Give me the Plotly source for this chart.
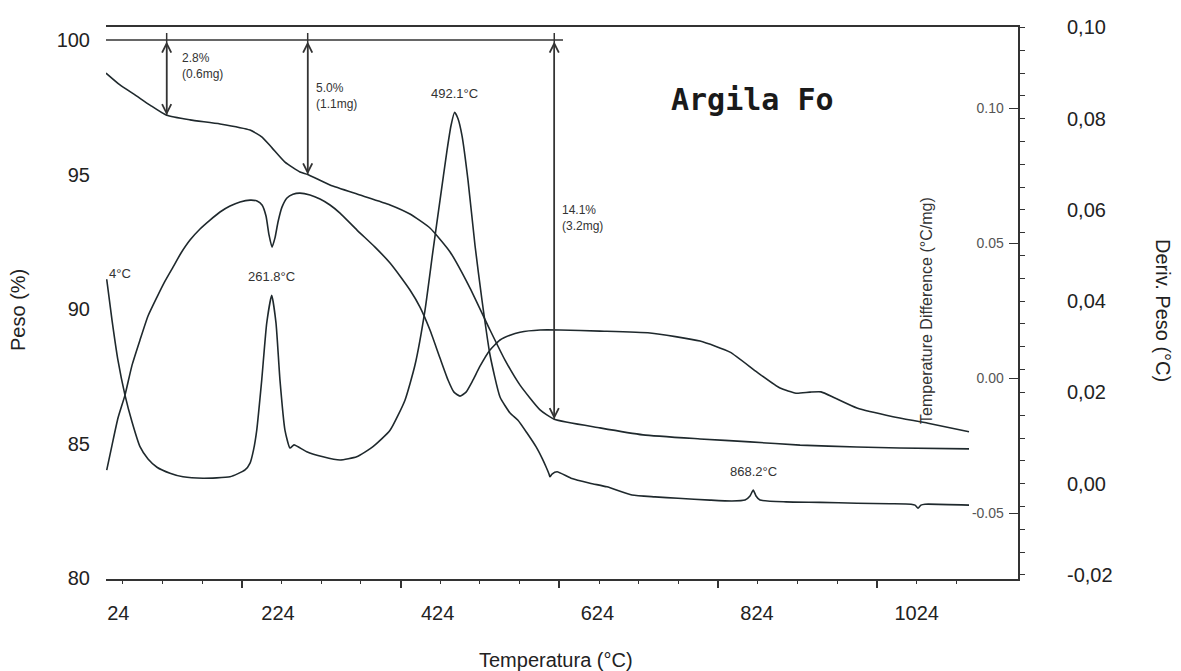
import numpy as np
import plotly.graph_objects as go

# ---- data (temperature in °C) ----
t_weight = [53.1, 70.7, 89.6, 108.5, 129.5, 158.9, 196.7, 234.5, 249.6, 262.2,
            278.5, 297.4, 307.1, 335.2, 373.0, 410.8, 435.9, 461.1, 486.4, 511.5,
            536.7, 555.6, 574.5, 599.7, 617.6, 675.2, 729.4, 801.1, 864.1, 927.2,
            998.8, 1052.2, 1139.9]
weight = [98.77, 98.33, 97.96, 97.58, 97.2, 97.03, 96.88, 96.65, 96.39, 95.99,
          95.46, 95.09, 95.0, 94.61, 94.24, 93.87, 93.53, 93.01, 92.12, 90.78,
          89.22, 88.10, 87.17, 86.25, 85.9, 85.58, 85.32, 85.17, 85.06, 84.94,
          84.87, 84.83, 84.80]

t_dtg = [54.0, 60.7, 68.2, 77.0, 85.9, 95.9, 106.0, 117.3, 133.7, 150.1,
         175.3, 209.3, 228.2, 234.5, 238.9, 242.9, 249.2, 255.5, 261.8, 267.2,
         272.2, 278.5, 284.8, 289.9, 294.9, 305.9, 326.4, 347.8, 368.8, 389.3,
         410.8, 429.6, 442.2, 454.8, 464.9, 473.7, 482.5, 487.6, 492.1, 496.4,
         501.4, 509.0, 517.8, 526.6, 536.7, 549.3, 561.9, 571.9, 583.3, 594.6,
         602.2, 607.2, 611.0, 612.2, 614.8, 621.1, 638.7, 662.6, 684.0, 715.5,
         744.5, 773.4, 813.7, 841.4, 857.8, 864.1, 868.2, 871.7, 876.7, 909.4,
         952.3, 998.8, 1040.4, 1066.9, 1071.9, 1075.7, 1079.4, 1084.5, 1139.9]
dtg = [0.0448, 0.0358, 0.0270, 0.0194, 0.0135, 0.0081, 0.0054, 0.0036, 0.0023, 0.0015,
       0.0012, 0.0015, 0.0030, 0.0045, 0.0074, 0.0117, 0.0227, 0.0352, 0.0413, 0.0352,
       0.0227, 0.0117, 0.0078, 0.0085, 0.0081, 0.0070, 0.0059, 0.0052, 0.0059, 0.0081,
       0.0117, 0.0183, 0.0260, 0.0380, 0.0511, 0.0621, 0.0730, 0.0785, 0.0814, 0.0800,
       0.0763, 0.0665, 0.0522, 0.0402, 0.0282, 0.0190, 0.0155, 0.0139, 0.0111, 0.0081,
       0.0056, 0.0037, 0.0021, 0.0015, 0.0021, 0.0026, 0.0012, 0.0001, -0.0007, -0.0025,
       -0.0029, -0.0032, -0.0036, -0.0038, -0.0036, -0.0027, -0.0014, -0.0027, -0.0036, -0.0040,
       -0.0041, -0.0043, -0.0044, -0.0045, -0.0047, -0.0054, -0.0047, -0.0045, -0.0047]

t_dta = [54.0, 60.7, 68.2, 77.0, 85.9, 95.9, 106.0, 117.3, 127.4, 137.5,
         147.6, 158.9, 171.5, 184.1, 196.7, 209.3, 221.9, 234.5, 243.3, 249.6,
         254.6, 258.4, 262.2, 265.9, 269.7, 274.7, 281.0, 288.6, 297.4, 310.0,
         322.6, 335.2, 347.8, 369.2, 391.9, 410.8, 423.3, 435.9, 448.5, 461.1,
         473.7, 483.8, 491.3, 498.9, 506.5, 515.3, 524.1, 536.7, 549.3, 561.9,
         574.5, 599.7, 624.8, 675.2, 738.2, 801.1, 838.9, 872.9, 901.9, 922.0,
         939.7, 953.5, 971.1, 998.8, 1044.2, 1088.3, 1139.9]
dta = [-0.0341, -0.0248, -0.0148, -0.0063, 0.0048, 0.0141, 0.0230, 0.0300, 0.0359, 0.0411,
       0.0463, 0.0511, 0.0552, 0.0585, 0.0615, 0.0637, 0.0652, 0.0659, 0.0656, 0.0641,
       0.0600, 0.0530, 0.0485, 0.0519, 0.0578, 0.0633, 0.0667, 0.0681, 0.0685, 0.0678,
       0.0663, 0.0641, 0.0611, 0.0548, 0.0485, 0.0426, 0.0378, 0.0326, 0.0263, 0.0178,
       0.0074, -0.0007, -0.0052, -0.0067, -0.0052, -0.0007, 0.0044, 0.0104, 0.0141, 0.0159,
       0.0170, 0.0178, 0.0178, 0.0174, 0.0167, 0.0137, 0.0096, 0.0022, -0.0037, -0.0056,
       -0.0052, -0.0051, -0.0074, -0.0111, -0.0143, -0.0167, -0.0199]

peak_temps = [261.8, 492.1, 868.2]
loss_temps = [129.5, 307.1, 617.6]
loss_pct = [2.8, 5.0, 14.1]
loss_mg = [0.6, 1.1, 3.2]

temp_tick_labels = [24, 224, 424, 624, 824, 1024]
instrument_major_ticks = [224, 424, 624, 824, 1024]
peso_ticks = [80, 85, 90, 95, 100]
deriv_ticks = [-0.02, 0.00, 0.02, 0.04, 0.06, 0.08, 0.10]
deriv_ticktext = ["-0,02", "0,00", "0,02", "0,04", "0,06", "0,08", "0,10"]
dta_ticks = [-0.05, 0.00, 0.05, 0.10]
dta_ticktext = ["-0.05", "0.00", "0.05", "0.10"]

# ---- styling ----
INK = "#1f292d"
AXIS = "#333333"
FONT = "Liberation Sans, Arial, sans-serif"

fig = go.Figure()
line_style = dict(color=INK, width=1.6, shape="spline", smoothing=0.5)
fig.add_trace(go.Scatter(x=t_weight, y=weight, mode="lines", line=line_style,
                         xaxis="x", yaxis="y", showlegend=False, hoverinfo="skip"))
fig.add_trace(go.Scatter(x=t_dtg, y=dtg, mode="lines", line=line_style,
                         xaxis="x", yaxis="y2", showlegend=False, hoverinfo="skip"))
fig.add_trace(go.Scatter(x=t_dta, y=dta, mode="lines", line=line_style,
                         xaxis="x", yaxis="y3", showlegend=False, hoverinfo="skip"))
# transparent anchor so the labelled temperature scale gets drawn
fig.add_trace(go.Scatter(x=temp_tick_labels, y=[peso_ticks[0]] * len(temp_tick_labels),
                         mode="markers", marker=dict(opacity=0, size=1),
                         xaxis="x2", yaxis="y", showlegend=False, hoverinfo="skip"))

annotations = []
shapes = []

# 100 % reference line
shapes.append(dict(type="line", xref="x", yref="y", x0=53.1, x1=628.6, y0=100, y1=100,
                   line=dict(color=AXIS, width=1.5)))

# mass-loss arrows and their labels
text_offsets = [(13, -9), (6, -39), (6, -161)]
for T, p, m, (dx, dy) in zip(loss_temps, loss_pct, loss_mg, text_offsets):
    end = 100 - p
    shapes.append(dict(type="line", xref="x", yref="y", x0=T, x1=T, y0=100.26, y1=end,
                       line=dict(color=AXIS, width=1.5)))
    annotations.append(dict(x=T, y=end, ax=T, ay=100, xref="x", yref="y", axref="x", ayref="y",
                            text="", showarrow=True, arrowside="end+start",
                            arrowhead=5, startarrowhead=5, arrowsize=1.2, startarrowsize=1.2,
                            arrowwidth=1.5, arrowcolor=AXIS, standoff=0, startstandoff=0))
    annotations.append(dict(x=T, y=100, xref="x", yref="y", xshift=dx, yshift=dy,
                            xanchor="left", yanchor="top", align="left", showarrow=False,
                            text=f"{p:.1f}%<br>({m:.1f}mg)",
                            font=dict(family=FONT, size=12, color="#333333")))

# peak temperature labels on the derivative curve
for T in peak_temps:
    v = float(np.interp(T, t_dtg, dtg))
    annotations.append(dict(x=T, y=v, xref="x", yref="y2", xanchor="center",
                            yanchor="bottom", yshift=9,
                            showarrow=False, text=f"{T:.1f}°C",
                            font=dict(family=FONT, size=13, color="#333333")))

# clipped label at the left edge
annotations.append(dict(x=0.001, y=0.5543, xref="paper", yref="paper", xanchor="left",
                        yanchor="middle", showarrow=False, text="4°C",
                        font=dict(family=FONT, size=13, color="#333333")))

# sample name
annotations.append(dict(x=0.709, y=0.8678, xref="paper", yref="paper", showarrow=False,
                        xanchor="center", yanchor="middle",
                        text="<b>Argila Fo</b>",
                        font=dict(family="DejaVu Sans Mono, monospace", size=30, color="#1a1a1a")))

# axis titles
title_font = dict(family=FONT, size=20, color="#222222")
annotations += [
    dict(x=-0.0965, y=0.4873, xref="paper", yref="paper", showarrow=False, textangle=-90,
         xanchor="center", yanchor="middle", text="Peso (%)", font=title_font),
    dict(x=1.159, y=0.4873, xref="paper", yref="paper", showarrow=False, textangle=90,
         xanchor="center", yanchor="middle", text="Deriv. Peso (°C)", font=title_font),
    dict(x=0.4934, y=-0.1467, xref="paper", yref="paper", showarrow=False,
         xanchor="center", yanchor="middle", text="Temperatura (°C)", font=title_font),
    dict(x=0.899, y=0.4873, xref="paper", yref="paper", showarrow=False, textangle=-90,
         xanchor="center", yanchor="middle", text="Temperature Difference (°C/mg)",
         font=dict(family="Liberation Sans Narrow, Arial Narrow, Liberation Sans, Arial", size=16,
                   color="#333333")),
]

fig.update_layout(
    width=1181, height=671,
    margin=dict(l=106, r=163, t=27, b=92),
    paper_bgcolor="white", plot_bgcolor="white",
    showlegend=False,
    font=dict(family=FONT, size=20, color="#222222"),
    xaxis=dict(range=[53.1, 1201.6], showgrid=False, zeroline=False,
               showline=True, linecolor=AXIS, linewidth=2, mirror=True,
               tickmode="array", tickvals=instrument_major_ticks, ticks="outside",
               ticklen=7, tickwidth=1.5, tickcolor=AXIS, showticklabels=False,
               minor=dict(tickmode="linear", tick0=24, dtick=50, ticks="outside",
                          ticklen=3, tickwidth=1, tickcolor=AXIS)),
    xaxis2=dict(range=[8.6, 1150.9], overlaying="x", anchor="y", side="bottom",
                showgrid=False, zeroline=False, showline=False, ticks="",
                tickmode="array", tickvals=temp_tick_labels,
                ticktext=[str(v) for v in temp_tick_labels],
                tickfont=dict(family=FONT, size=20, color="#222222"),
                ticklabelstandoff=20),
    yaxis=dict(range=[79.963, 100.483], showgrid=False, zeroline=False, showline=False,
               ticks="", tickmode="array", tickvals=peso_ticks,
               tickfont=dict(family=FONT, size=20, color="#222222"),
               ticklabelstandoff=15),
    yaxis2=dict(range=[-0.0209, 0.1001], overlaying="y", anchor="x", side="right",
                showgrid=False, zeroline=False, showline=False, ticks="",
                tickmode="array", tickvals=deriv_ticks, ticktext=deriv_ticktext,
                tickfont=dict(family=FONT, size=20, color="#222222"),
                ticklabelstandoff=48,
                minor=dict(tickmode="linear", tick0=0, dtick=0.005, ticks="outside",
                           ticklen=6, tickwidth=1, tickcolor=AXIS)),
    yaxis3=dict(range=[-0.0744, 0.13], overlaying="y", anchor="x", side="right",
                showgrid=False, zeroline=False, showline=True, linecolor=AXIS, linewidth=2,
                ticks="inside", ticklen=9, tickwidth=1.2, tickcolor=AXIS,
                ticklabelposition="inside", ticklabelstandoff=5,
                tickmode="array", tickvals=dta_ticks, ticktext=dta_ticktext,
                tickfont=dict(family=FONT, size=14, color="#555555")),
    annotations=annotations,
    shapes=shapes,
)

fig.write_html("out.html")
